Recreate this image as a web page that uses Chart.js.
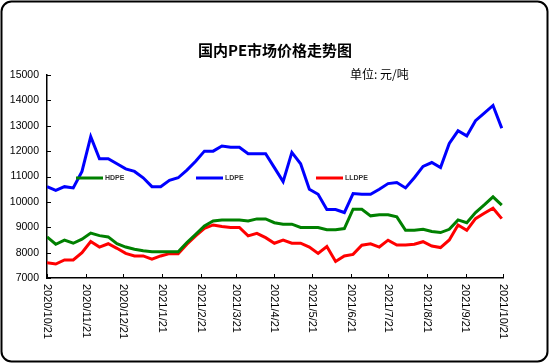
<!DOCTYPE html>
<html>
<head>
<meta charset="utf-8">
<script src="https://cdn.jsdelivr.net/npm/chart.js@4.4.0/dist/chart.umd.min.js"></script>
<style>
body { margin: 0; background: #fff; }
#wrap { position: relative; width: 550px; height: 364px; }
</style>
</head>
<body>
<div id="wrap"><canvas id="grafico-pe" width="550" height="364"></canvas></div>
<script>
// datas semanais (x)
const datas = ['2020/10/21','2020/10/28','2020/11/4','2020/11/11','2020/11/18','2020/11/25','2020/12/2','2020/12/9','2020/12/16','2020/12/23','2020/12/30',
  '2021/1/6','2021/1/13','2021/1/20','2021/1/27','2021/2/3','2021/2/10','2021/2/17','2021/2/24','2021/3/3','2021/3/10','2021/3/17','2021/3/24','2021/3/31',
  '2021/4/7','2021/4/14','2021/4/21','2021/4/28','2021/5/5','2021/5/12','2021/5/19','2021/5/26','2021/6/2','2021/6/9','2021/6/16','2021/6/23','2021/6/30',
  '2021/7/7','2021/7/14','2021/7/21','2021/7/28','2021/8/4','2021/8/11','2021/8/18','2021/8/25','2021/9/1','2021/9/8','2021/9/15','2021/9/22','2021/9/29',
  '2021/10/6','2021/10/13','2021/10/20'];

const hdpe = [8620,8330,8490,8370,8530,8770,8670,8620,8355,8220,8130,8070,8030,8030,8030,8030,8400,8720,9050,9250,9290,9290,9290,9250,9330,9330,
  9180,9120,9120,8990,8990,8990,8900,8900,8950,9710,9710,9450,9490,9490,9410,8880,8880,8920,8830,8790,8920,9290,9180,9580,9880,10200,9870];

const ldpe = [10600,10450,10600,10550,11200,12570,11700,11700,11500,11300,11200,10950,10600,10600,10850,10950,11250,11600,12000,12000,12200,12150,12150,
  11900,11900,11900,11350,10800,11950,11500,10500,10300,9700,9700,9580,10330,10300,10300,10500,10720,10760,10550,10950,11400,11550,11350,12300,12800,
  12600,13200,13500,13800,12900];

const lldpe = [7600,7550,7710,7710,8000,8440,8220,8350,8170,7970,7870,7870,7740,7870,7960,7960,8330,8660,8960,9090,9030,8990,8990,8660,8760,8590,
  8370,8490,8370,8370,8220,7970,8240,7650,7870,7930,8290,8350,8220,8490,8300,8300,8330,8430,8260,8200,8500,9090,8880,9340,9550,9750,9340];

const rotulosMeses = ['2020/10/21','2020/11/21','2020/12/21','2021/1/21','2021/2/21','2021/3/21','2021/4/21','2021/5/21','2021/6/21','2021/7/21','2021/8/21','2021/9/21','2021/10/21'];

const nomesSeries = ['HDPE', 'LDPE', 'LLDPE'];
const coresSeries = ['#008000', '#0000FF', '#FF0000'];

function diasDesdeInicio(txt) {
  const p = txt.split('/').map(Number);
  return Math.round((Date.UTC(p[0], p[1] - 1, p[2]) - Date.UTC(2020, 9, 21)) / 86400000);
}

function montarPontos(valores) {
  return valores.map((v, i) => ({ x: diasDesdeInicio(datas[i]), y: v }));
}

const extras = {
  id: 'extras',
  beforeDraw(chart) {
    const ctx = chart.ctx;
    ctx.save();
    ctx.fillStyle = '#fff';
    ctx.fillRect(0, 0, chart.width, chart.height);
    ctx.beginPath();
    ctx.roundRect(1.5, 1.5, 546, 360, 10);
    ctx.lineWidth = 2;
    ctx.strokeStyle = '#000';
    ctx.stroke();
    ctx.restore();
  },
  afterDatasetsDraw(chart) {
    // legenda dentro do grafico
    const ctx = chart.ctx;
    const posX = [76, 196, 316];
    ctx.save();
    for (let i = 0; i < nomesSeries.length; i++) {
      ctx.beginPath();
      ctx.moveTo(posX[i], 178);
      ctx.lineTo(posX[i] + 27, 178);
      ctx.lineWidth = 3;
      ctx.strokeStyle = coresSeries[i];
      ctx.stroke();
      ctx.font = 'bold 7px "Liberation Sans", Arial';
      ctx.fillStyle = '#333';
      ctx.textBaseline = 'middle';
      ctx.fillText(nomesSeries[i], posX[i] + 29, 178.5);
    }
    ctx.restore();
  },
  afterDraw(chart) {
    const ctx = chart.ctx;
    const area = chart.chartArea;
    const sx = chart.scales.x;
    const sy = chart.scales.y;
    ctx.save();
    // titulo e unidade
    ctx.fillStyle = '#000';
    ctx.textAlign = 'center';
    ctx.textBaseline = 'middle';
    ctx.font = 'bold 15px "Noto Sans CJK SC"';
    ctx.fillText('国内PE市场价格走势图', 275, 50);
    ctx.textAlign = 'left';
    ctx.font = '12px "Noto Sans CJK SC"';
    ctx.fillText('单位: 元/吨', 350, 74);
    // marcas dos eixos (para dentro)
    ctx.strokeStyle = '#000';
    ctx.lineWidth = 1;
    ctx.beginPath();
    sx.ticks.forEach(t => {
      const px = Math.round(sx.getPixelForValue(t.value)) + 0.5;
      ctx.moveTo(px, area.bottom);
      ctx.lineTo(px, area.bottom - 4);
    });
    sy.ticks.forEach(t => {
      const py = Math.round(sy.getPixelForValue(t.value)) + 0.5;
      ctx.moveTo(area.left, py);
      ctx.lineTo(area.left + 4, py);
    });
    ctx.stroke();
    // rotulos do eixo x, de cima para baixo
    ctx.font = '11px "Liberation Sans", Arial';
    ctx.textAlign = 'left';
    ctx.textBaseline = 'middle';
    sx.ticks.forEach((t, i) => {
      ctx.save();
      ctx.translate(sx.getPixelForValue(t.value), area.bottom + 6);
      ctx.rotate(Math.PI / 2);
      ctx.fillText(rotulosMeses[i], 0, 0);
      ctx.restore();
    });
    ctx.restore();
  }
};

const ctxPE = document.getElementById('grafico-pe').getContext('2d');

const graficoPE = new Chart(ctxPE, {
  type: 'line',
  data: {
    datasets: nomesSeries.map((nome, i) => ({
      label: nome,
      data: montarPontos([hdpe, ldpe, lldpe][i]),
      borderColor: coresSeries[i],
      backgroundColor: coresSeries[i],
      borderWidth: 3,
      pointRadius: 0,
      tension: 0,
      fill: false
    }))
  },
  options: {
    responsive: false,
    animation: false,
    layout: { padding: { top: 75, right: 47, left: 0, bottom: 0 } },
    plugins: {
      legend: { display: false },
      title: { display: false },
      tooltip: { enabled: false }
    },
    scales: {
      x: {
        type: 'linear',
        min: 0,
        max: diasDesdeInicio(rotulosMeses[rotulosMeses.length - 1]),
        afterBuildTicks: escala => {
          escala.ticks = rotulosMeses.map(r => ({ value: diasDesdeInicio(r) }));
        },
        afterFit: escala => { escala.height = 86; },
        grid: { display: false, drawTicks: false },
        border: { display: true, color: '#000', width: 1.5 },
        ticks: { display: false }
      },
      y: {
        min: 7000,
        max: 15000,
        afterFit: escala => { escala.width = 47; },
        grid: { display: false, drawTicks: false },
        border: { display: true, color: '#000', width: 1.5 },
        ticks: {
          stepSize: 1000,
          padding: 8,
          color: '#000',
          font: { family: '"Liberation Sans", Arial', size: 10.5 },
          callback: valor => String(valor)
        }
      }
    }
  },
  plugins: [extras]
});
</script>
</body>
</html>
